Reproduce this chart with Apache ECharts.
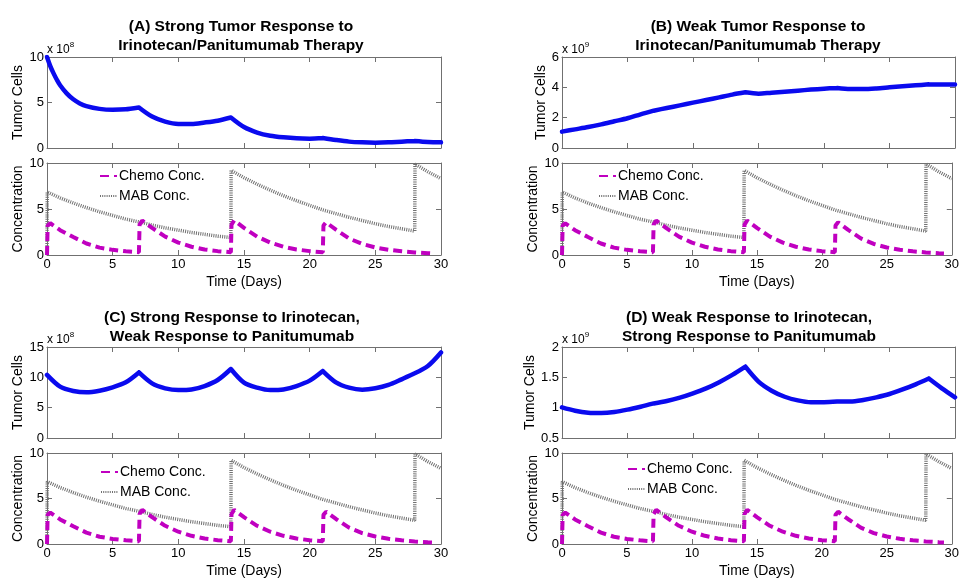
<!DOCTYPE html>
<html><head><meta charset="utf-8">
<script src="https://cdn.jsdelivr.net/npm/echarts@6/dist/echarts.min.js"></script>
<style>html,body{margin:0;padding:0;background:#fff}#c{width:962px;height:579px}</style>
</head><body><div id="c"></div><script>
const FONT = '"Liberation Sans", Arial, Helvetica, sans-serif';

// ---------- data ----------
const titles = [
  '(A) Strong Tumor Response to\nIrinotecan/Panitumumab Therapy',
  '(B) Weak Tumor Response to\nIrinotecan/Panitumumab Therapy',
  '(C) Strong Response to Irinotecan,\nWeak Response to Panitumumab',
  '(D) Weak Response to Irinotecan,\nStrong Response to Panitumumab'
];
const tumorLabel = 'Tumor Cells';
const concLabel = 'Concentration';
const timeLabel = 'Time (Days)';
const seriesNames = ['Chemo Conc.', 'MAB Conc.'];
const tumorExponents = ['8', '9', '8', '9'];
const tumorYMin = [0, 0, 0, 0.5];
const tumorYMax = [10, 6, 15, 2];
const tumorYStep = [5, 2, 5, 0.5];
const concYMin = 0, concYMax = 10, concYStep = 5;
const dayMin = 0, dayMax = 30, dayStep = 5;
const doseDays = [7, 14, 21, 28];

const daysA = [0,0.25,0.5,0.75,1,1.5,2,2.5,3,4,5,6,7,8,9,10,11,12,13,14,15,16,17,18,19,20,21,22,23,24,25,26,27,28,29,30];
const tumorA = [10,9.0,8.2,7.5,6.9,6.0,5.35,4.9,4.6,4.3,4.2,4.25,4.45,3.45,2.9,2.65,2.65,2.8,3.0,3.35,2.3,1.7,1.35,1.17,1.06,1.03,1.1,0.88,0.7,0.62,0.59,0.62,0.7,0.77,0.66,0.62];

const days = [0,1,2,3,4,5,6,7,8,9,10,11,12,13,14,15,16,17,18,19,20,21,22,23,24,25,26,27,28,29,30];
const tumorB = [1.08,1.23,1.38,1.56,1.76,1.96,2.22,2.46,2.64,2.81,2.99,3.16,3.34,3.52,3.67,3.58,3.65,3.71,3.78,3.85,3.91,3.96,3.89,3.89,3.93,4.0,4.07,4.13,4.2,4.18,4.18];
const tumorC = [10.4,8.46,7.75,7.53,7.8,8.35,9.18,10.8,9.0,8.19,7.9,8.0,8.57,9.56,11.37,9.12,8.3,7.9,8.0,8.57,9.45,11.04,9.18,8.3,7.97,8.19,8.74,9.67,10.66,11.87,14.1];
const tumorD = [1.005,0.95,0.918,0.912,0.929,0.967,1.016,1.07,1.11,1.165,1.236,1.318,1.42,1.54,1.676,1.43,1.28,1.18,1.12,1.09,1.09,1.1,1.1,1.126,1.17,1.225,1.3,1.385,1.48,1.318,1.17];

const chemoDays = [0,0.05,0.25,1,2,3,4,5,6,7,
  7.05,7.25,8,9,10,11,12,13,14,
  14.05,14.25,15,16,17,18,19,20,21,
  21.05,21.25,22,23,24,25,26,27,28,29,29.4];
const chemoConc = [0,3.2,3.45,2.7,1.95,1.25,0.8,0.56,0.4,0.3,
  3.3,3.75,2.95,2.0,1.35,0.9,0.6,0.42,0.3,
  3.3,3.75,2.95,2.0,1.35,0.9,0.6,0.42,0.3,
  3.2,3.55,2.75,1.8,1.2,0.82,0.57,0.4,0.28,0.2,0.17];

const mabDays = [0,0.02,1,2,3,4,5,6,7,8,9,10,11,12,13,14,
  14.02,15,16,17,18,19,20,21,22,23,24,25,26,27,28,
  28.02,29,30];
const mabConc = [0,6.85,6.2,5.65,5.15,4.7,4.3,3.9,3.6,3.25,2.95,2.7,2.45,2.25,2.05,1.9,
  9.2,8.4,7.7,7.05,6.45,5.9,5.4,4.9,4.5,4.1,3.75,3.4,3.1,2.85,2.6,
  9.9,9.05,8.3];

const tumorDays = [daysA, days, days, days];
const tumorVals = [tumorA, tumorB, tumorC, tumorD];

// ---------- layout ----------
const panels = [
  {left: 47,  width: 394, topT: 57,  topB: 163, titleX: 241, titleY: 17,  tGap: 21, cGap: 21, legL: 99,  legT: 169},
  {left: 562, width: 393, topT: 57,  topB: 163, titleX: 758, titleY: 17,  tGap: 14, cGap: 20, legL: 598, legT: 169},
  {left: 47,  width: 394, topT: 347, topB: 453, titleX: 232, titleY: 308, tGap: 21, cGap: 21, legL: 100, legT: 465},
  {left: 562, width: 393, topT: 347, topB: 453, titleX: 749, titleY: 308, tGap: 25, cGap: 20, legL: 627, legT: 462}
];
const hT = 91, hB = 92;
const BOX = '#707070';
const BLUE = '#0a0aee';
const MAG = '#c000c0';
const GRAY = '#707070';
const NONE = 'rgba(0,0,0,0)';

// split a curve into smooth pieces that meet (sharply) at the dose days
function piecewise(xs, ys) {
  const out = [];
  xs.forEach((d, i) => {
    out.push([d, ys[i]]);
    if (doseDays.indexOf(d) >= 0 && i < xs.length - 1) {
      out.push([d, null]);
      out.push([d, ys[i]]);
    }
  });
  return out;
}

const grids = [], xAxes = [], yAxes = [], series = [], legends = [], graphics = [];

function addAxes(gi, ymin, ymax, ystep, showX, yName, yGap) {
  const xi = xAxes.length, yi = yAxes.length;
  const tickStyle = {show: true, inside: true, length: 5, lineStyle: {color: BOX, width: 1}};
  const lineStyle = {show: true, onZero: false, lineStyle: {color: BOX, width: 1}};
  xAxes.push({
    type: 'value', gridIndex: gi, min: dayMin, max: dayMax, interval: dayStep, position: 'bottom',
    axisLine: lineStyle, axisTick: tickStyle, splitLine: {show: false},
    axisLabel: {show: showX, color: '#000', fontFamily: FONT, fontSize: 13, margin: 3},
    name: showX ? timeLabel : '', nameLocation: 'middle', nameGap: 20,
    nameTextStyle: {color: '#000', fontFamily: FONT, fontSize: 14}
  });
  xAxes.push({
    type: 'value', gridIndex: gi, min: dayMin, max: dayMax, interval: dayStep, position: 'top',
    axisLine: lineStyle, axisTick: tickStyle, splitLine: {show: false}, axisLabel: {show: false}
  });
  yAxes.push({
    type: 'value', gridIndex: gi, min: ymin, max: ymax, interval: ystep, position: 'left',
    axisLine: lineStyle, axisTick: tickStyle, splitLine: {show: false},
    axisLabel: {color: '#000', fontFamily: FONT, fontSize: 13, margin: 3},
    name: yName, nameLocation: 'middle', nameGap: yGap, nameRotate: 90,
    nameTextStyle: {color: '#000', fontFamily: FONT, fontSize: 14}
  });
  yAxes.push({
    type: 'value', gridIndex: gi, min: ymin, max: ymax, interval: ystep, position: 'right',
    axisLine: lineStyle, axisTick: tickStyle, splitLine: {show: false}, axisLabel: {show: false}
  });
  return {xi, yi};
}

panels.forEach((p, k) => {
  const gT = grids.length;
  grids.push({left: p.left, top: p.topT, width: p.width, height: hT, containLabel: false});
  const aT = addAxes(gT, tumorYMin[k], tumorYMax[k], tumorYStep[k], false, tumorLabel, p.tGap);
  series.push({
    type: 'line', name: 'Tumor' + k, xAxisIndex: aT.xi, yAxisIndex: aT.yi,
    data: piecewise(tumorDays[k], tumorVals[k]),
    smooth: 0.3, connectNulls: false, showSymbol: false, symbol: 'none',
    lineStyle: {color: BLUE, width: 4.5, cap: 'round', join: 'round'}, itemStyle: {color: BLUE},
    animation: false, z: 3
  });
  const gB = grids.length;
  grids.push({left: p.left, top: p.topB, width: p.width, height: hB, containLabel: false});
  const aB = addAxes(gB, concYMin, concYMax, concYStep, true, concLabel, p.cGap);
  series.push({
    type: 'line', name: seriesNames[1], xAxisIndex: aB.xi, yAxisIndex: aB.yi,
    data: mabDays.map((d, i) => [d, mabConc[i]]),
    symbol: 'none', lineStyle: {color: GRAY, width: 3.5, type: [1, 1.2]}, itemStyle: {color: GRAY},
    animation: false, z: 2
  });
  series.push({
    type: 'line', name: seriesNames[0], xAxisIndex: aB.xi, yAxisIndex: aB.yi,
    data: chemoDays.map((d, i) => [d, chemoConc[i]]),
    symbol: 'none', lineStyle: {color: MAG, width: 4, type: [9, 5]}, itemStyle: {color: MAG},
    animation: false, z: 3
  });
  legends.push({
    data: seriesNames, orient: 'vertical', left: p.legL, top: p.legT,
    itemWidth: 17, itemHeight: 14, itemGap: 6, padding: 0,
    itemStyle: {color: NONE, borderColor: NONE, borderWidth: 0, opacity: 0},
    textStyle: {color: '#000', fontFamily: FONT, fontSize: 14, padding: [0, 0, 0, -3]},
    selectedMode: false, backgroundColor: 'transparent', borderWidth: 0
  });
  graphics.push({
    type: 'text', x: p.titleX, y: p.titleY, silent: true,
    style: {text: titles[k], fill: '#000', font: 'bold 15.5px ' + FONT, textAlign: 'center', textVerticalAlign: 'top', lineHeight: 19}
  });
  graphics.push({
    type: 'text', left: p.left, top: p.topT - 16, silent: true,
    style: {
      text: '{a|x 10}{s|' + tumorExponents[k] + '}',
      rich: {
        a: {fontFamily: FONT, fontSize: 12, fill: '#000', verticalAlign: 'bottom', lineHeight: 15},
        s: {fontFamily: FONT, fontSize: 8, fill: '#000', verticalAlign: 'top', lineHeight: 15}
      }
    }
  });
});

const chart = echarts.init(document.getElementById('c'), null, {renderer: 'canvas'});
chart.setOption({
  backgroundColor: '#fff',
  animation: false,
  grid: grids, xAxis: xAxes, yAxis: yAxes, series: series, legend: legends, graphic: graphics
});
</script></body></html>
